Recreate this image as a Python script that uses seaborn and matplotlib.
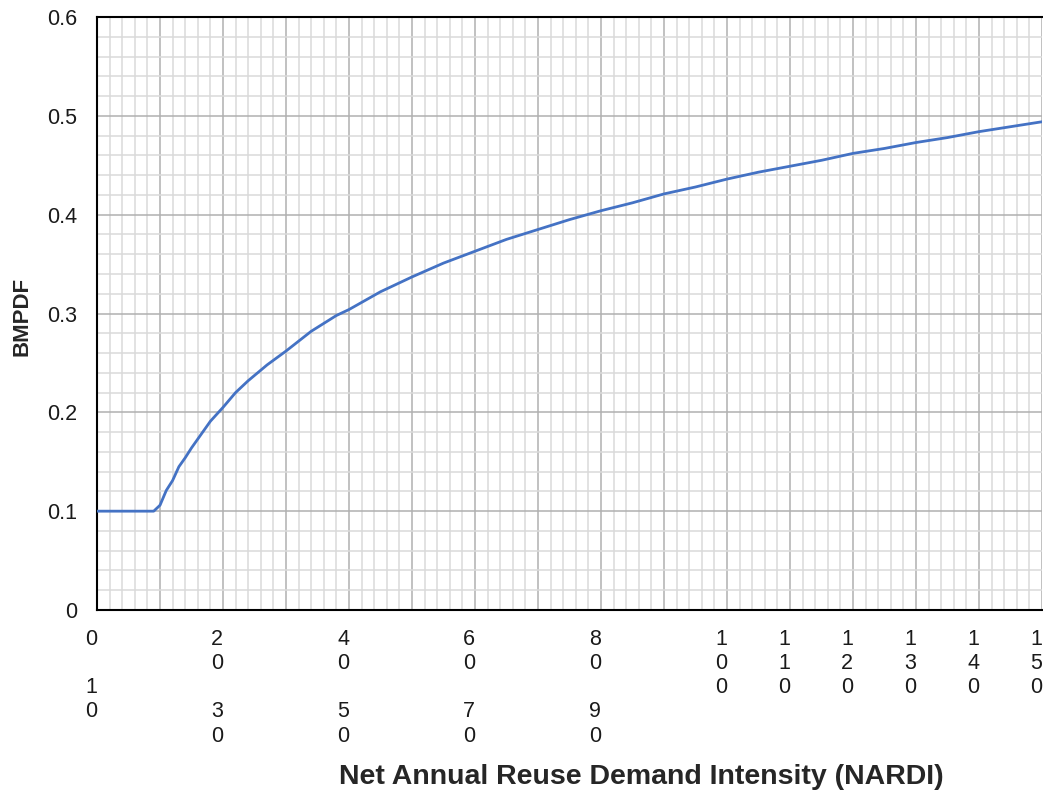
import matplotlib
matplotlib.use('Agg')
import matplotlib.pyplot as plt
import matplotlib.transforms as mtransforms
from matplotlib.ticker import MultipleLocator
import seaborn as sns
import pandas as pd

# NARDI values and the BMPDF
nardi = [0, 9, 10, 11, 12, 13, 14, 15, 16, 18, 20, 22, 24, 27, 30, 34, 38, 40,
         45, 50, 55, 60, 65, 70, 75, 80, 85, 90, 95, 100, 105, 110, 115, 120,
         125, 130, 135, 140, 145, 150]
bmpdf = [0.100, 0.100, 0.106, 0.121, 0.131, 0.145, 0.154, 0.164, 0.173, 0.191,
         0.205, 0.220, 0.232, 0.248, 0.262, 0.282, 0.298, 0.304, 0.322, 0.337,
         0.351, 0.363, 0.375, 0.385, 0.395, 0.404, 0.412, 0.421, 0.428, 0.436,
         0.443, 0.449, 0.455, 0.462, 0.467, 0.473, 0.478, 0.484, 0.489, 0.494]

# Excel-style wrapped tick labels (10, 30, ... stacked below 0, 20, ...)
x_ticks = [0, 10, 20, 30, 40, 50, 60, 70, 80, 90, 100, 110, 120, 130, 140, 150]
x_tick_labels = ['0\n\n1\n0', '', '2\n0\n\n3\n0', '', '4\n0\n\n5\n0', '',
                 '6\n0\n\n7\n0', '', '8\n0\n\n9\n0', '',
                 '1\n0\n0', '1\n1\n0', '1\n2\n0', '1\n3\n0', '1\n4\n0', '1\n5\n0']
y_ticks = [0, 0.1, 0.2, 0.3, 0.4, 0.5, 0.6]
y_tick_labels = ['0', '0.1', '0.2', '0.3', '0.4', '0.5', '0.6']

sns.set_style('white')
plt.rcParams['font.family'] = ['Liberation Sans', 'DejaVu Sans']

df = pd.DataFrame({'NARDI': nardi, 'BMPDF': bmpdf})

fig = plt.figure(figsize=(10.43, 8.01), dpi=100)
ax = fig.add_axes([97 / 1043, 191 / 801, 945 / 1043, 593 / 801])

sns.lineplot(data=df, x='NARDI', y='BMPDF', color='#4472C4', linewidth=2.0,
             ax=ax, zorder=3)

ax.set_xlim(0, 150)
ax.set_ylim(0, 0.6)

ax.xaxis.set_minor_locator(MultipleLocator(2))
ax.yaxis.set_minor_locator(MultipleLocator(0.02))
ax.set_xticks(x_ticks)
ax.set_xticklabels(x_tick_labels, fontsize=15.5, color='#1a1a1a',
                   va='top', linespacing=1.2)
ax.set_yticks(y_ticks)
ax.set_yticklabels(y_tick_labels, fontsize=15.5, color='#1a1a1a')

ax.grid(which='major', color='#b0b0b0', linewidth=1.1)
ax.grid(which='minor', color='#dadada', linewidth=1.1)
ax.set_axisbelow(True)
ax.tick_params(which='both', length=0)
ax.tick_params(axis='x', pad=13.5)
ax.tick_params(axis='y', pad=14)

# labels in the source sit a little left of their gridlines
shift = mtransforms.ScaledTranslation(-6 / 100, 0, fig.dpi_scale_trans)
for lab in ax.get_xticklabels():
    lab.set_transform(lab.get_transform() + shift)

for side in ['left', 'bottom', 'top']:
    ax.spines[side].set_color('black')
    ax.spines[side].set_linewidth(1.5)
ax.spines['right'].set_visible(False)

ax.set_xlabel('')
ax.set_ylabel('')
fig.text(22 / 1043, 1 - 316 / 801, 'BMPDF', rotation=90, fontsize=16,
         fontweight='bold', ha='center', va='center')
fig.text(641 / 1043, 1 - 777 / 801, 'Net Annual Reuse Demand Intensity (NARDI)',
         fontsize=20.5, fontweight='bold', ha='center', va='center')

fig.savefig('out.png', dpi=100)
